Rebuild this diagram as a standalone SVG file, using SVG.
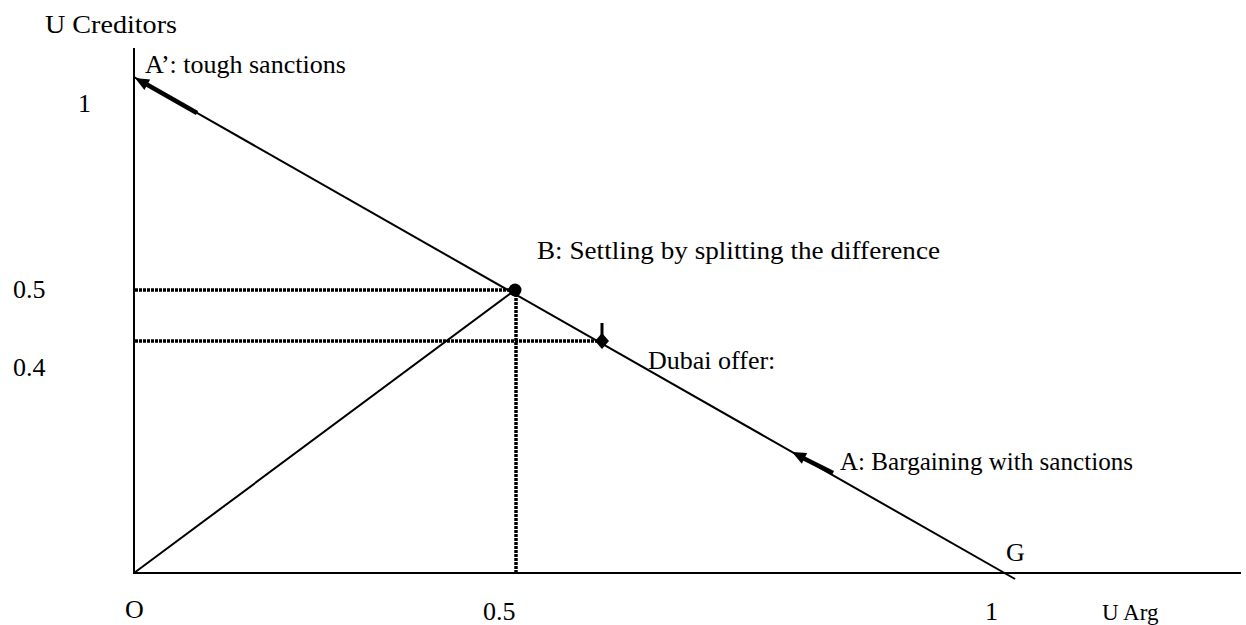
<svg xmlns="http://www.w3.org/2000/svg" width="1246" height="625" viewBox="0 0 1246 625">
<style>
text{font-size:26px;fill:#000}
.small{font-size:23px}
.ln{stroke:#000;stroke-width:2;fill:none}
.dot{stroke:#000;stroke-width:3.5;stroke-dasharray:3 1;fill:none}
.thick{stroke:#000;stroke-width:4.5;fill:none}
</style>
<rect width="1246" height="625" fill="#fff"/>
<g id="axes">
<line class="ln" x1="134" y1="48" x2="134" y2="574"/>
<line class="ln" x1="133" y1="573" x2="1241" y2="573"/>
</g>
<g id="connectors">
<line class="ln" x1="134" y1="77" x2="1015" y2="579"/>
<line class="ln" x1="134" y1="573" x2="515" y2="290"/>
<line class="dot" x1="135" y1="290" x2="515" y2="290"/>
<line class="dot" x1="135" y1="341" x2="602" y2="341"/>
<line class="dot" x1="516" y1="290" x2="516" y2="572"/>
<line class="thick" x1="197" y1="113" x2="146" y2="84"/>
<polygon points="135,78 150.2,79.6 144.4,90.1" fill="#000"/>
<line class="thick" x1="833" y1="473" x2="803" y2="458"/>
<polygon points="792,452 807.2,453.1 801.8,463.7" fill="#000"/>
</g>
<g font-family="'Liberation Serif', 'Times New Roman', 'DejaVu Serif', serif">
<g id="B">
<circle cx="515" cy="290" r="6.5" fill="#000"/>
<text x="537" y="259" textLength="403" lengthAdjust="spacingAndGlyphs">B: Settling by splitting the difference</text>
</g>
<g id="Dubai">
<polygon points="602,333 609,341 602,349 595,341" fill="#000"/>
<line x1="602" y1="323" x2="602" y2="336" stroke="#000" stroke-width="3"/>
<text x="648" y="369">Dubai offer:</text>
</g>
<g id="Aprime">
<text x="145" y="73">A’: tough sanctions</text>
</g>
<g id="A">
<text x="840" y="470" textLength="293" lengthAdjust="spacingAndGlyphs">A: Bargaining with sanctions</text>
</g>
<g id="labels">
<text x="45" y="33" textLength="132" lengthAdjust="spacingAndGlyphs">U Creditors</text>
<text x="78" y="112">1</text>
<text x="13" y="298">0.5</text>
<text x="13" y="376">0.4</text>
<text x="1006" y="561">G</text>
<text x="125" y="618">O</text>
<text x="483" y="620">0.5</text>
<text x="985" y="620">1</text>
<text class="small" x="1102" y="620">U Arg</text>
</g>
</g>
</svg>
